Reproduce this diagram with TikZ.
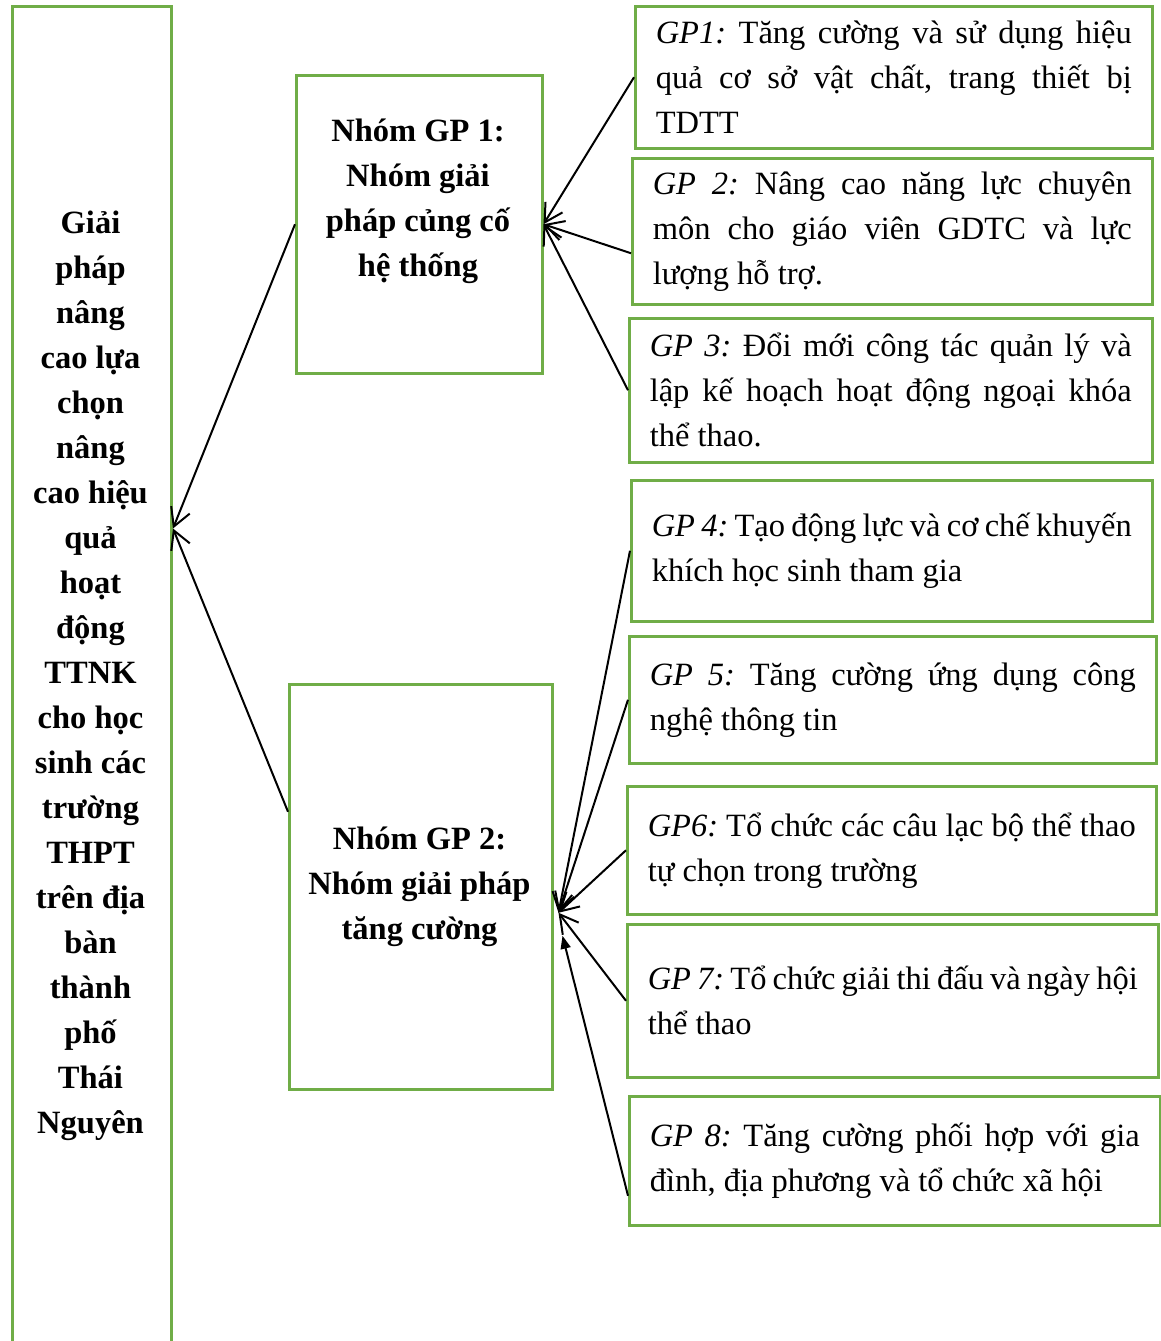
\documentclass[tikz,border=0pt]{standalone}
\usepackage{fontspec}
\setmainfont{Liberation Serif}
\usetikzlibrary{arrows.meta}
\definecolor{gr}{HTML}{70AD47}
\newcommand\dfont{\fontsize{32.5pt}{45pt}\selectfont}
\newcommand\bfont{\fontsize{32.5pt}{45pt}\selectfont\bfseries}
\newcommand\np{\spaceskip=0pt\xspaceskip=0pt\frenchspacing}
\newcommand\jline[1]{\makebox[\hsize][s]{#1}}
\begin{document}
\begin{tikzpicture}[x=1pt,y=-1pt,
  frame/.style={draw=gr, line width=2.5pt, rectangle, inner sep=0pt, anchor=north west},
  gpbox/.style={frame, inner xsep=20.5pt, inner ysep=0pt, align=left, font=\dfont},
  btext/.style={align=center, font=\bfont, inner sep=0pt},
  arr/.style={line width=2pt, -{Straight Barb[length=18pt,width=20pt]}},
  tarr/.style={line width=2pt, -{Triangle[length=13pt,width=10pt]}}]
\fill[white] (0,0) rectangle (1160,1341);
\useasboundingbox (0,0) rectangle (1160,1341);

% left box
\node[frame, line width=3pt, minimum width=159pt, minimum height=1340pt] (left) at (11,5) {};
\node[btext] (leftt) at (90.5,676) {Giải\\pháp\\nâng\\cao lựa\\chọn\\nâng\\cao hiệu\\quả\\hoạt\\động\\TTNK\\cho học\\sinh các\\trường\\THPT\\trên địa\\bàn\\thành\\phố\\Thái\\Nguyên};

% group boxes
\node[frame, minimum width=246pt, minimum height=298pt] (grp1) at (295,74) {};
\node[btext] (grp1t) at (418,201.5) {Nhóm GP 1:\\Nhóm giải\\pháp củng cố\\hệ thống};
\node[frame, minimum width=263pt, minimum height=405pt] (grp2) at (288,683) {};
\node[btext] (grp2t) at (419.5,887) {Nhóm GP 2:\\Nhóm giải pháp\\tăng cường};

% GP boxes
\node[gpbox, text width=476pt, minimum height=142pt] (gp1) at (634,5)
  {\np\jline{\textit{GP1:} Tăng cường và sử dụng hiệu}\\\jline{quả cơ sở vật chất, trang thiết bị}\\TDTT};
\node[gpbox, text width=479pt, minimum height=146pt] (gp2) at (631,157)
  {\np\jline{\textit{GP 2:} Nâng cao năng lực chuyên}\\\jline{môn cho giáo viên GDTC và lực}\\lượng hỗ trợ.};
\node[gpbox, text width=482pt, minimum height=144pt] (gp3) at (628,317)
  {\np\jline{\textit{GP 3:} Đổi mới công tác quản lý và}\\\jline{lập kế hoạch hoạt động ngoại khóa}\\thể thao.};
\node[gpbox, text width=480pt, minimum height=141pt] (gp4) at (630,479)
  {\np\jline{\textit{GP 4:} Tạo động lực và cơ chế khuyến}\\khích học sinh tham gia};
\node[gpbox, text width=486pt, minimum height=127pt] (gp5) at (628,635)
  {\np\jline{\textit{GP 5:} Tăng cường ứng dụng công}\\nghệ thông tin};
\node[gpbox, text width=488pt, minimum height=128pt] (gp6) at (626,785)
  {\np\jline{\textit{GP6:} Tổ chức các câu lạc bộ thể thao}\\tự chọn trong trường};
\node[gpbox, text width=490pt, minimum height=153pt] (gp7) at (626,923)
  {\np\jline{\textit{GP 7:} Tổ chức giải thi đấu và ngày hội}\\thể thao};
\node[gpbox, text width=490pt, minimum height=129pt] (gp8) at (628,1095)
  {\np\jline{\textit{GP 8:} Tăng cường phối hợp với gia}\\đình, địa phương và tổ chức xã hội};

% connectors
\coordinate (ltip) at ([yshift=148pt]left.east);
\coordinate (g2in) at ([xshift=5pt,yshift=-26pt]grp2.east);
\coordinate (g2tri) at ([xshift=9pt,yshift=-49pt]grp2.east);
\draw[arr] (grp1.west) -- (ltip);
\draw[arr] ([yshift=75pt]grp2.west) -- (ltip);
\draw[arr] (gp1.west) -- (grp1.east);
\draw[arr] ([yshift=-22pt]gp2.west) -- (grp1.east);
\draw[arr] (gp3.west) -- (grp1.east);
\draw[arr] (gp4.west) -- (g2in);
\draw[arr] (gp5.west) -- (g2in);
\draw[arr] (gp6.west) -- (g2in);
\draw[arr] (gp7.west) -- (g2in);
\draw[tarr] ([yshift=-35pt]gp8.west) -- (g2tri);
\end{tikzpicture}
\end{document}
